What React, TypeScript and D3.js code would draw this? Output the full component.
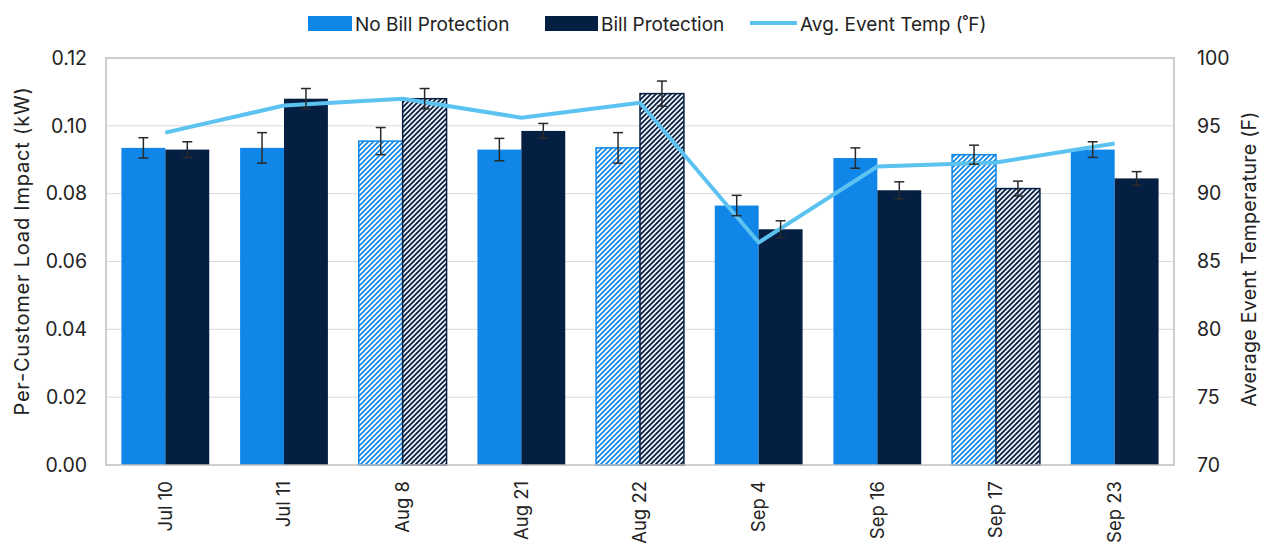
import React, { useRef, useEffect } from 'react';
import * as d3 from 'd3';

const categories = ['Jul 10', 'Jul 11', 'Aug 8', 'Aug 21', 'Aug 22', 'Sep 4', 'Sep 16', 'Sep 17', 'Sep 23'];
const noBill = [0.0935, 0.0935, 0.0955, 0.093, 0.0935, 0.0765, 0.0905, 0.0915, 0.093];
const noBillErr = [0.003, 0.0045, 0.004, 0.0033, 0.0045, 0.003, 0.003, 0.0028, 0.0023];
const bill = [0.093, 0.108, 0.108, 0.0985, 0.1095, 0.0695, 0.081, 0.0815, 0.0845];
const billErr = [0.0023, 0.003, 0.003, 0.0022, 0.0037, 0.0025, 0.0025, 0.0022, 0.002];
const avgTemp = [94.5, 96.5, 97.0, 95.6, 96.7, 86.4, 92.0, 92.3, 93.7];
const hatched = ['Aug 8', 'Aug 22', 'Sep 17'];
const leftTicks = [0, 0.02, 0.04, 0.06, 0.08, 0.1, 0.12];
const rightTicks = [70, 75, 80, 85, 90, 95, 100];

const W = 1265;
const H = 546;
const BLUE = '#0f86e8';
const NAVY = '#051f42';
const LINE = '#5cc3f0';
const FONT = 'Inter, "Open Sans", sans-serif';

const App: React.FC = () => {
  const svgRef = useRef<SVGSVGElement | null>(null);

  useEffect(() => {
    if (!svgRef.current) return;
    const svg = d3.select(svgRef.current);
    svg.selectAll('*').remove();

    const m = { left: 106, right: 1174, top: 58, bottom: 465 };

    // hatch patterns: "/" stripes drawn as diagonal paths in a small tile
    const defs = svg.append('defs');
    const addPattern = (id: string, bg: string, stroke: string) => {
      const s = 5;
      const p = defs.append('pattern')
        .attr('id', id)
        .attr('patternUnits', 'userSpaceOnUse')
        .attr('width', s)
        .attr('height', s);
      p.append('rect').attr('width', s).attr('height', s).attr('fill', bg);
      p.append('path')
        .attr('d', `M-1,1 L1,-1 M0,${s} L${s},0 M${s - 1},${s + 1} L${s + 1},${s - 1}`)
        .attr('stroke', stroke)
        .attr('stroke-width', 1.7);
    };
    addPattern('hatch-blue', '#ffffff', BLUE);
    addPattern('hatch-navy', '#eef0f4', NAVY);

    const x = d3.scaleBand<string>()
      .domain(categories)
      .range([m.left, m.right])
      .paddingInner(0.26)
      .paddingOuter(0.13);
    const xSub = d3.scaleBand<string>()
      .domain(['noBill', 'bill'])
      .range([0, x.bandwidth()]);
    const y = d3.scaleLinear().domain([0, 0.12]).range([m.bottom, m.top]);
    const y2 = d3.scaleLinear().domain([70, 100]).range([m.bottom, m.top]);

    // gridlines
    svg.append('g')
      .selectAll('line')
      .data(leftTicks.slice(1, -1))
      .join('line')
      .attr('x1', m.left)
      .attr('x2', m.right)
      .attr('y1', d => y(d))
      .attr('y2', d => y(d))
      .attr('stroke', '#d9d9d9')
      .attr('stroke-width', 1);

    // bars
    const series = [
      { key: 'noBill', values: noBill, err: noBillErr, color: BLUE, hatch: 'url(#hatch-blue)' },
      { key: 'bill', values: bill, err: billErr, color: NAVY, hatch: 'url(#hatch-navy)' },
    ];

    series.forEach(s => {
      const g = svg.append('g');
      g.selectAll('rect')
        .data(categories)
        .join('rect')
        .attr('x', d => (x(d) ?? 0) + (xSub(s.key) ?? 0))
        .attr('width', xSub.bandwidth())
        .attr('y', (d, i) => y(s.values[i]))
        .attr('height', (d, i) => y(0) - y(s.values[i]))
        .attr('fill', d => hatched.includes(d) ? s.hatch : s.color)
        .attr('stroke', d => hatched.includes(d) ? s.color : 'none')
        .attr('stroke-width', 1.5);
    });

    // temperature line
    const line = d3.line<number>()
      .x((d, i) => (x(categories[i]) ?? 0) + x.bandwidth() / 2)
      .y(d => y2(d));
    svg.append('path')
      .datum(avgTemp)
      .attr('d', line)
      .attr('fill', 'none')
      .attr('stroke', LINE)
      .attr('stroke-width', 4)
      .attr('stroke-linejoin', 'round');

    // error bars
    series.forEach(s => {
      const g = svg.append('g').attr('stroke', '#2a2a2a').attr('stroke-width', 1.5);
      categories.forEach((c, i) => {
        const cx = (x(c) ?? 0) + (xSub(s.key) ?? 0) + xSub.bandwidth() / 2;
        const lo = y(s.values[i] - s.err[i]);
        const hi = y(s.values[i] + s.err[i]);
        g.append('line').attr('x1', cx).attr('x2', cx).attr('y1', lo).attr('y2', hi);
        g.append('line').attr('x1', cx - 5).attr('x2', cx + 5).attr('y1', lo).attr('y2', lo);
        g.append('line').attr('x1', cx - 5).attr('x2', cx + 5).attr('y1', hi).attr('y2', hi);
      });
    });

    // frame
    svg.append('rect')
      .attr('x', m.left)
      .attr('y', m.top)
      .attr('width', m.right - m.left)
      .attr('height', m.bottom - m.top)
      .attr('fill', 'none')
      .attr('stroke', '#bfbfbf')
      .attr('stroke-width', 1.5);

    // left axis labels
    svg.append('g')
      .selectAll('text')
      .data(leftTicks)
      .join('text')
      .attr('x', m.left - 19)
      .attr('y', d => y(d))
      .attr('dy', '0.35em')
      .attr('text-anchor', 'end')
      .attr('font-size', 19.5)
      .attr('fill', '#222')
      .text(d => d3.format('.2f')(d));

    // right axis labels
    svg.append('g')
      .selectAll('text')
      .data(rightTicks)
      .join('text')
      .attr('x', m.right + 23)
      .attr('y', d => y2(d))
      .attr('dy', '0.35em')
      .attr('text-anchor', 'start')
      .attr('font-size', 19.5)
      .attr('fill', '#222')
      .text(d => d);

    // x labels
    svg.append('g')
      .selectAll('text')
      .data(categories)
      .join('text')
      .attr('transform', d => `translate(${(x(d) ?? 0) + x.bandwidth() / 2},${m.bottom + 16}) rotate(-90)`)
      .attr('dy', '0.35em')
      .attr('text-anchor', 'end')
      .attr('font-size', 18.5)
      .attr('fill', '#222')
      .text(d => d);

    // axis titles
    svg.append('text')
      .attr('transform', 'translate(29,251) rotate(-90)')
      .attr('text-anchor', 'middle')
      .attr('font-size', 20)
      .attr('letter-spacing', 0.8)
      .attr('fill', '#222')
      .text('Per-Customer Load Impact (kW)');
    svg.append('text')
      .attr('transform', `translate(1256,259) rotate(-90)`)
      .attr('text-anchor', 'middle')
      .attr('font-size', 19.5)
      .attr('letter-spacing', 0.3)
      .attr('fill', '#222')
      .text('Average Event Temperature (F)');

    // legend
    const lg = svg.append('g').attr('font-size', 19).attr('fill', '#222');
    lg.append('rect').attr('x', 308).attr('y', 16).attr('width', 44).attr('height', 15).attr('fill', BLUE);
    lg.append('text').attr('x', 355).attr('y', 24).attr('dy', '0.35em').text('No Bill Protection');
    lg.append('rect').attr('x', 545).attr('y', 16).attr('width', 53).attr('height', 15).attr('fill', NAVY);
    lg.append('text').attr('x', 601).attr('y', 24).attr('dy', '0.35em').text('Bill Protection');
    lg.append('line').attr('x1', 750).attr('x2', 797).attr('y1', 23).attr('y2', 23)
      .attr('stroke', LINE).attr('stroke-width', 4);
    lg.append('text').attr('x', 800).attr('y', 24).attr('dy', '0.35em').text('Avg. Event Temp (˚F)');
  }, []);

  return (
    <svg
      ref={svgRef}
      width={W}
      height={H}
      style={{ position: 'absolute', left: 0, top: 0, fontFamily: FONT, background: '#fff' }}
    />
  );
};

export default App;
